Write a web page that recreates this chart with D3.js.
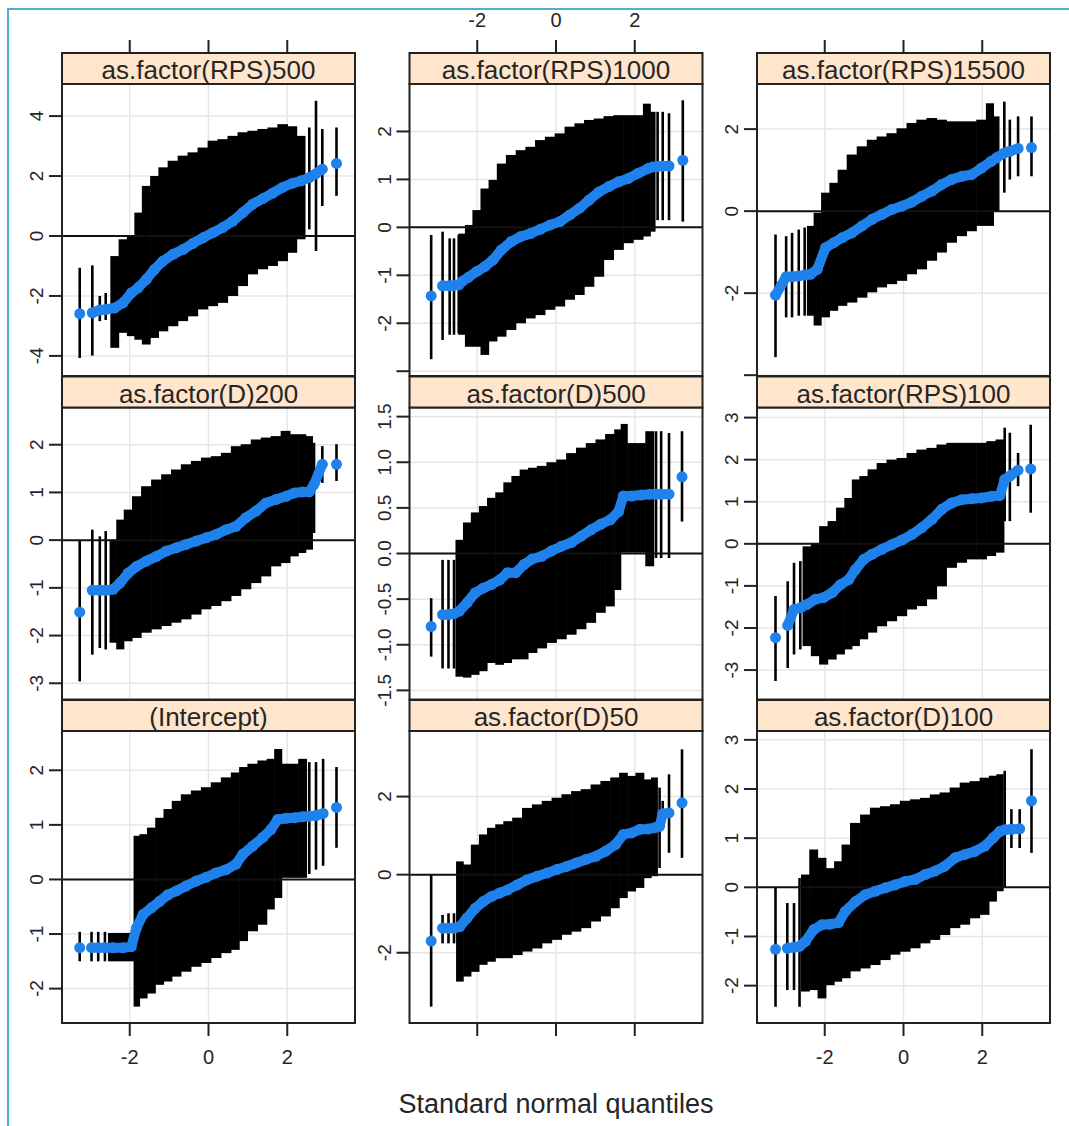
<!DOCTYPE html>
<html>
<head>
<meta charset="utf-8">
<script src="https://cdn.jsdelivr.net/npm/d3@7"></script>
<style>
  body { margin: 0; background: #fff; }
  text { font-family: "Liberation Sans", Arial, sans-serif; fill: #262626; }
</style>
</head>
<body>
<svg id="chartSVG" width="1069" height="1126"></svg>
<script>
/* ---------- Data: [quantile, estimate, lower, upper] ---------- */
const panelNames = ["as.factor(RPS)500", "as.factor(RPS)1000", "as.factor(RPS)15500",
                    "as.factor(D)200", "as.factor(D)500", "as.factor(RPS)100",
                    "(Intercept)", "as.factor(D)50", "as.factor(D)100"];

const xTicks = [-2, 0, 2];
const xDomain = [-3.72, 3.72];

const yDomains = [[-4.67, 5.07], [-3.1, 2.99], [-4.02, 3.1],
                  [-3.34, 2.78], [-1.6, 1.6], [-3.7, 3.24],
                  [-2.63, 2.72], [-3.8, 3.68], [-2.76, 3.18]];

const yTicks = [[-4, -2, 0, 2, 4], [-3, -2, -1, 0, 1, 2], [-4, -2, 0, 2],
                [-3, -2, -1, 0, 1, 2], [-1.5, -1, -0.5, 0, 0.5, 1, 1.5], [-3, -2, -1, 0, 1, 2, 3],
                [-2, -1, 0, 1, 2], [-2, 0, 2], [-2, -1, 0, 1, 2, 3]];

// sparse levels at both ends, drawn as single bars
const rps500Tails = [[-3.27,-2.59,-4.07,-1.06],[-2.95,-2.56,-3.99,-0.98],[-2.76,-2.47,-2.84,-2.0],[-2.61,-2.45,-2.8,-1.9],
                     [2.56,1.95,0.22,3.62],[2.73,2.08,-0.5,4.51],[2.89,2.23,1.0,3.57],[3.25,2.42,1.34,3.62]];
const rps500Body = [[-2.38,-2.40,-3.73,-0.67],[-2.17,-2.23,-3.23,-0.11],[-1.96,-1.90,-3.34,0.00],[-1.79,-1.73,-3.46,0.78],
                    [-1.58,-1.45,-3.62,1.67],[-1.37,-1.11,-3.40,2.00],[-1.16,-0.84,-3.18,2.29],[-0.90,-0.61,-3.01,2.51],
                    [-0.65,-0.45,-2.84,2.68],[-0.40,-0.25,-2.68,2.79],[-0.14,-0.06,-2.45,2.95],[0.11,0.11,-2.34,3.18],
                    [0.36,0.28,-2.23,3.23],[0.62,0.50,-2.00,3.34],[0.87,0.78,-1.67,3.46],[1.12,1.06,-1.28,3.51],
                    [1.38,1.25,-1.11,3.57],[1.63,1.43,-1.00,3.62],[1.88,1.62,-0.84,3.73],[2.14,1.76,-0.56,3.66],
                    [2.35,1.84,-0.11,3.34]];

const rps1000Tails = [[-3.17,-1.43,-2.75,-0.16],[-2.88,-1.22,-2.35,-0.09],[-2.70,-1.22,-2.24,-0.23],[-2.59,-1.21,-2.24,-0.23],
                      [-2.47,-1.20,-2.21,-0.16],[2.58,1.27,0.15,2.41],[2.71,1.28,0.15,2.41],[2.87,1.28,0.15,2.38],
                      [3.22,1.40,0.12,2.65]];
const rps1000Body = [[-2.39,-1.13,-2.24,-0.13],[-2.22,-1.04,-2.49,0.05],[-2.01,-0.92,-2.49,0.36],[-1.81,-0.82,-2.66,0.81],
                     [-1.60,-0.68,-2.38,0.99],[-1.39,-0.47,-2.28,1.33],[-1.14,-0.30,-2.14,1.51],[-0.89,-0.19,-2.00,1.61],
                     [-0.65,-0.13,-1.90,1.68],[-0.40,-0.04,-1.83,1.82],[-0.15,0.05,-1.72,1.89],[0.10,0.12,-1.65,1.96],
                     [0.35,0.26,-1.51,2.10],[0.60,0.40,-1.41,2.17],[0.84,0.57,-1.24,2.24],[1.09,0.74,-1.03,2.27],
                     [1.34,0.85,-0.68,2.32],[1.59,0.95,-0.47,2.34],[1.84,1.02,-0.33,2.34],[2.09,1.13,-0.26,2.34],
                     [2.34,1.23,-0.19,2.58],[2.46,1.26,-0.09,2.41]];

const rps15500Tails = [[-3.25,-2.05,-3.56,-0.57],[-2.98,-1.60,-2.59,-0.61],[-2.83,-1.60,-2.59,-0.53],[-2.66,-1.58,-2.55,-0.45],
                       [-2.51,-1.56,-2.55,-0.40],[2.56,1.42,0.45,2.67],[2.70,1.46,0.77,2.23],[2.91,1.53,0.85,2.31],
                       [3.25,1.55,0.85,2.31]];
const rps15500Body = [[-2.36,-1.54,-2.55,-0.36],[-2.19,-1.42,-2.79,-0.04],[-1.98,-0.89,-2.59,0.45],[-1.77,-0.77,-2.43,0.69],
                      [-1.56,-0.65,-2.31,1.01],[-1.31,-0.53,-2.23,1.38],[-1.05,-0.36,-2.11,1.58],[-0.80,-0.20,-1.98,1.74],
                      [-0.55,-0.08,-1.86,1.82],[-0.30,0.04,-1.78,1.90],[-0.04,0.12,-1.70,2.02],[0.21,0.22,-1.54,2.15],
                      [0.46,0.36,-1.42,2.23],[0.72,0.49,-1.21,2.27],[0.97,0.65,-1.01,2.23],[1.22,0.77,-0.77,2.19],
                      [1.48,0.85,-0.61,2.19],[1.73,0.89,-0.49,2.19],[1.98,1.05,-0.36,2.23],[2.22,1.21,-0.36,2.63],
                      [2.36,1.30,0.00,2.31]];

const d200Tails = [[-3.27,-1.51,-2.96,0.00],[-2.95,-1.05,-2.40,0.22],[-2.76,-1.05,-2.26,0.08],[-2.61,-1.05,-2.29,0.19],
                   [2.68,1.17,0.15,2.04],[2.89,1.59,1.20,1.97],[3.25,1.59,1.24,2.01]];
const d200Body = [[-2.42,-1.03,-2.15,0.01],[-2.25,-0.90,-2.29,0.43],[-2.04,-0.69,-2.12,0.64],[-1.83,-0.55,-2.05,0.92],
                  [-1.58,-0.44,-1.94,1.13],[-1.32,-0.34,-1.87,1.27],[-1.07,-0.23,-1.80,1.38],[-0.82,-0.16,-1.73,1.48],
                  [-0.57,-0.09,-1.66,1.59],[-0.31,-0.02,-1.56,1.66],[-0.06,0.05,-1.45,1.73],[0.19,0.12,-1.38,1.76],
                  [0.45,0.22,-1.28,1.83],[0.70,0.29,-1.17,1.97],[0.95,0.47,-1.03,2.01],[1.21,0.61,-0.90,2.11],
                  [1.46,0.78,-0.76,2.15],[1.71,0.85,-0.55,2.18],[1.97,0.92,-0.48,2.29],[2.18,0.99,-0.34,2.22],
                  [2.39,1.01,-0.27,2.22],[2.56,1.01,-0.20,2.18]];

const d500Tails = [[-3.17,-0.80,-1.13,-0.49],[-2.88,-0.67,-1.26,-0.07],[-2.73,-0.67,-1.26,-0.07],[-2.59,-0.66,-1.26,-0.07],
                   [2.54,0.65,-0.05,1.34],[2.67,0.65,-0.05,1.34],[2.87,0.65,-0.05,1.32],[3.20,0.84,0.35,1.34]];
const d500Body = [[-2.45,-0.63,-1.35,0.15],[-2.26,-0.54,-1.36,0.34],[-2.05,-0.43,-1.33,0.45],[-1.85,-0.38,-1.29,0.52],
                  [-1.64,-0.34,-1.20,0.61],[-1.43,-0.29,-1.22,0.67],[-1.23,-0.21,-1.20,0.78],[-1.02,-0.21,-1.16,0.85],
                  [-0.81,-0.12,-1.16,0.92],[-0.60,-0.06,-1.09,0.94],[-0.36,-0.03,-1.04,0.96],[-0.11,0.03,-0.98,1.00],
                  [0.14,0.08,-0.94,1.03],[0.39,0.12,-0.89,1.10],[0.64,0.19,-0.83,1.16],[0.89,0.26,-0.76,1.21],
                  [1.13,0.32,-0.65,1.25],[1.38,0.37,-0.58,1.31],[1.59,0.46,-0.40,1.36],[1.71,0.63,0.01,1.42],
                  [1.92,0.63,0.01,1.21],[2.17,0.64,0.01,1.21],[2.38,0.65,-0.14,1.34]];

const rps100Tails = [[-3.25,-2.23,-3.26,-1.24],[-2.94,-1.94,-2.95,-0.89],[-2.78,-1.56,-2.63,-0.45],[-2.62,-1.52,-2.51,-0.41],
                     [2.57,1.53,0.54,2.76],[2.70,1.61,0.54,2.64],[2.91,1.75,1.37,2.16],[3.23,1.78,0.74,2.83]];
const rps100Body = [[-2.45,-1.44,-2.43,-0.06],[-2.24,-1.32,-2.67,0.02],[-2.03,-1.28,-2.87,0.42],[-1.81,-1.16,-2.75,0.54],
                    [-1.60,-0.97,-2.63,0.86],[-1.39,-0.85,-2.51,1.09],[-1.22,-0.61,-2.43,1.53],[-1.01,-0.37,-2.27,1.61],
                    [-0.80,-0.25,-2.11,1.77],[-0.55,-0.13,-1.96,1.92],[-0.30,-0.02,-1.84,2.00],[-0.04,0.09,-1.72,2.04],
                    [0.21,0.22,-1.56,2.16],[0.46,0.38,-1.48,2.24],[0.72,0.58,-1.32,2.28],[0.97,0.82,-1.01,2.36],
                    [1.22,0.97,-0.57,2.40],[1.48,1.05,-0.45,2.40],[1.73,1.07,-0.37,2.40],[1.98,1.09,-0.37,2.40],
                    [2.24,1.13,-0.29,2.44],[2.45,1.15,-0.21,2.48]];

const interceptTails = [[-3.27,-1.25,-1.50,-0.96],[-2.97,-1.25,-1.50,-0.96],[-2.80,-1.25,-1.50,-0.96],[-2.63,-1.25,-1.50,-0.96],
                        [2.56,1.16,0.10,2.15],[2.73,1.17,0.18,2.15],[2.91,1.21,0.25,2.21],[3.25,1.32,0.58,2.06]];
const interceptBody = [[-2.42,-1.25,-1.50,-0.98],[-2.17,-1.25,-1.50,-0.98],[-1.96,-1.23,-1.50,-0.98],[-1.83,-0.89,-2.33,0.80],
                       [-1.66,-0.64,-2.18,0.83],[-1.45,-0.52,-2.09,0.95],[-1.24,-0.40,-1.93,1.13],[-1.03,-0.28,-1.87,1.29],
                       [-0.82,-0.21,-1.78,1.44],[-0.57,-0.12,-1.69,1.56],[-0.31,-0.03,-1.60,1.63],[-0.06,0.04,-1.53,1.69],
                       [0.19,0.12,-1.44,1.78],[0.45,0.18,-1.35,1.87],[0.70,0.28,-1.29,1.96],[0.87,0.46,-1.13,2.06],
                       [1.12,0.61,-0.95,2.12],[1.38,0.77,-0.83,2.18],[1.59,0.92,-0.55,2.21],[1.76,1.10,-0.34,2.39],
                       [1.97,1.12,0.03,2.12],[2.18,1.13,0.03,2.12],[2.39,1.15,0.03,2.21]];

const d50Tails = [[-3.17,-1.70,-3.38,0.00],[-2.88,-1.37,-1.76,-1.03],[-2.73,-1.37,-1.76,-0.99],[-2.59,-1.37,-1.76,-0.99],
                  [2.63,1.24,0.17,2.23],[2.71,1.56,1.29,1.89],[2.87,1.58,0.56,2.57],[3.20,1.84,0.43,3.21]];
const d50Body = [[-2.44,-1.33,-2.74,0.34],[-2.26,-1.11,-2.61,0.26],[-2.05,-0.86,-2.49,0.77],[-1.85,-0.69,-2.31,1.03],
                 [-1.64,-0.56,-2.23,1.20],[-1.43,-0.47,-2.14,1.29],[-1.23,-0.39,-2.14,1.37],[-0.98,-0.26,-2.06,1.46],
                 [-0.73,-0.13,-1.97,1.71],[-0.48,-0.04,-1.89,1.80],[-0.23,0.04,-1.76,1.89],[0.02,0.13,-1.67,1.97],
                 [0.27,0.21,-1.54,2.06],[0.51,0.30,-1.46,2.14],[0.76,0.39,-1.37,2.19],[1.01,0.47,-1.20,2.31],
                 [1.26,0.60,-1.07,2.40],[1.51,0.77,-0.86,2.49],[1.71,1.03,-0.60,2.61],[1.92,1.07,-0.43,2.53],
                 [2.13,1.16,-0.34,2.61],[2.34,1.17,-0.09,2.44],[2.50,1.20,-0.04,2.49]];

const d100Tails = [[-3.25,-1.26,-2.43,-0.01],[-2.95,-1.24,-2.09,-0.32],[-2.78,-1.22,-2.09,-0.32],[-2.64,-1.20,-2.43,0.19],
                   [2.57,1.17,-0.01,2.37],[2.74,1.18,0.80,1.59],[2.95,1.19,0.80,1.59],[3.25,1.76,0.70,2.81]];
const d100Body = [[-2.49,-1.10,-2.12,0.26],[-2.28,-0.86,-2.09,0.77],[-2.07,-0.76,-2.26,0.60],[-1.86,-0.75,-1.99,0.39],
                  [-1.65,-0.72,-1.92,0.53],[-1.48,-0.49,-1.85,0.87],[-1.22,-0.29,-1.71,1.31],[-0.97,-0.15,-1.65,1.48],
                  [-0.72,-0.08,-1.58,1.62],[-0.46,-0.01,-1.48,1.65],[-0.21,0.05,-1.37,1.69],[0.04,0.12,-1.31,1.76],
                  [0.30,0.16,-1.24,1.79],[0.55,0.26,-1.14,1.82],[0.80,0.33,-1.07,1.89],[1.05,0.43,-0.97,1.93],
                  [1.31,0.60,-0.83,2.03],[1.56,0.67,-0.76,2.13],[1.81,0.73,-0.63,2.16],[2.07,0.84,-0.56,2.23],
                  [2.28,1.01,-0.29,2.27],[2.45,1.14,-0.08,2.30]];

const panelTails = [rps500Tails, rps1000Tails, rps15500Tails, d200Tails, d500Tails, rps100Tails, interceptTails, d50Tails, d100Tails];
const panelBodies = [rps500Body, rps1000Body, rps15500Body, d200Body, d500Body, rps100Body, interceptBody, d50Body, d100Body];

/* ---------- Layout ---------- */
const panelLeft0 = 62, colStep = 347.5, panelW = 293;
const rowTop0 = 53, rowStep = 323.5, stripH = 31, panelH = 292;
const tickLen = 13;
const dotRadius = 5.5;
const blue = "#1f82ec";

var svg = d3.select("#chartSVG");
svg.append("rect").attr("width", 1069).attr("height", 1126).attr("fill", "#fff");

// light blue frame of the screenshot
svg.append("path")
    .attr("d", "M8,1126V9H1069")
    .attr("fill", "none")
    .attr("stroke", "#4fb0d2")
    .attr("stroke-width", 2);

var drawPanel = function(i) {
    var col = i % 3, row = Math.floor(i / 3);
    var left = panelLeft0 + col * colStep;
    var stripTop = rowTop0 + row * rowStep;
    var pTop = stripTop + stripH, pBottom = pTop + panelH;

    var x = d3.scaleLinear().domain(xDomain).range([left, left + panelW]);
    var y = d3.scaleLinear().domain(yDomains[i]).range([pBottom, pTop]);
    var g = svg.append("g").attr("class", "panel");

    /* ---------- grid ---------- */
    xTicks.forEach(v => {
        g.append("line").attr("x1", x(v)).attr("x2", x(v)).attr("y1", pTop).attr("y2", pBottom)
            .attr("stroke", "#e6e6e6").attr("stroke-width", 1.5);
    });
    var ticks = yTicks[i].filter(v => v >= yDomains[i][0] && v <= yDomains[i][1]);
    ticks.forEach(v => {
        g.append("line").attr("x1", left).attr("x2", left + panelW).attr("y1", y(v)).attr("y2", y(v))
            .attr("stroke", "#e6e6e6").attr("stroke-width", 1.5);
    });

    /* ---------- intervals ---------- */
    var body = panelBodies[i], tails = panelTails[i];
    var bx = body.map(d => x(d[0]));
    var n = bx.length;
    body.forEach((d, k) => {
        var xl = k > 0 ? (bx[k - 1] + bx[k]) / 2 : bx[k] - (bx[1] - bx[0]) / 2;
        var xr = k < n - 1 ? (bx[k] + bx[k + 1]) / 2 : bx[k] + (bx[n - 1] - bx[n - 2]) / 2;
        g.append("rect")
            .attr("x", xl - 0.3).attr("width", xr - xl + 0.6)
            .attr("y", y(d[3])).attr("height", y(d[2]) - y(d[3]))
            .attr("fill", "#000");
    });
    tails.forEach(d => {
        g.append("line").attr("x1", x(d[0])).attr("x2", x(d[0]))
            .attr("y1", y(d[2])).attr("y2", y(d[3]))
            .attr("stroke", "#000").attr("stroke-width", 2.6);
    });

    // reference line at zero
    g.append("line").attr("x1", left).attr("x2", left + panelW).attr("y1", y(0)).attr("y2", y(0))
        .attr("stroke", "#111").attr("stroke-width", 2);

    /* ---------- estimates ---------- */
    var pts = tails.concat(body).sort((a, b) => a[0] - b[0]);
    var path = "";
    for (let k = 0; k < pts.length - 1; k++) {
        if (x(pts[k + 1][0]) - x(pts[k][0]) < 11) {
            path += "M" + x(pts[k][0]) + "," + y(pts[k][1]) + "L" + x(pts[k + 1][0]) + "," + y(pts[k + 1][1]);
        }
    }
    g.append("path").attr("d", path).attr("fill", "none")
        .attr("stroke", blue).attr("stroke-width", 10).attr("stroke-linecap", "round");
    pts.forEach(d => {
        g.append("circle").attr("cx", x(d[0])).attr("cy", y(d[1])).attr("r", dotRadius).attr("fill", blue);
    });

    /* ---------- frame and strip ---------- */
    g.append("rect").attr("x", left).attr("y", pTop).attr("width", panelW).attr("height", panelH)
        .attr("fill", "none").attr("stroke", "#222").attr("stroke-width", 2);
    g.append("rect").attr("x", left).attr("y", stripTop).attr("width", panelW).attr("height", stripH)
        .attr("fill", "#ffe5cc").attr("stroke", "#222").attr("stroke-width", 2);
    g.append("text").text(panelNames[i])
        .attr("x", left + panelW / 2).attr("y", stripTop + stripH - 5)
        .attr("text-anchor", "middle").attr("font-size", 26);

    /* ---------- y axis ---------- */
    var decimals = yTicks[i].some(v => !Number.isInteger(v)) ? 1 : 0;
    ticks.forEach(v => {
        g.append("line").attr("x1", left - tickLen).attr("x2", left).attr("y1", y(v)).attr("y2", y(v))
            .attr("stroke", "#222").attr("stroke-width", 2);
        if (y(v) - pTop >= 5 && pBottom - y(v) >= 5) {
            g.append("text").text(v.toFixed(decimals))
                .attr("text-anchor", "middle").attr("font-size", 19)
                .attr("transform", "translate(" + (left - 19) + "," + y(v) + ") rotate(-90)");
        }
    });

    /* ---------- x axis (alternating) ---------- */
    if (row === 0) {
        xTicks.forEach(v => {
            g.append("line").attr("x1", x(v)).attr("x2", x(v)).attr("y1", stripTop - tickLen).attr("y2", stripTop)
                .attr("stroke", "#222").attr("stroke-width", 2);
            if (col === 1) {
                g.append("text").text(String(v)).attr("x", x(v)).attr("y", stripTop - 26)
                    .attr("text-anchor", "middle").attr("font-size", 20);
            }
        });
    }
    if (row === 2) {
        xTicks.forEach(v => {
            g.append("line").attr("x1", x(v)).attr("x2", x(v)).attr("y1", pBottom).attr("y2", pBottom + tickLen)
                .attr("stroke", "#222").attr("stroke-width", 2);
            if (col !== 1) {
                g.append("text").text(String(v)).attr("x", x(v)).attr("y", pBottom + 41)
                    .attr("text-anchor", "middle").attr("font-size", 20);
            }
        });
    }
}

for (let i = 0; i < panelNames.length; i++) {
    drawPanel(i);
}

/* ---------- Axis caption ---------- */
svg.append("text")
    .text("Standard normal quantiles")
    .attr("x", panelLeft0 + colStep + panelW / 2)
    .attr("y", 1113)
    .attr("text-anchor", "middle")
    .attr("font-size", 27);
</script>
</body>
</html>
